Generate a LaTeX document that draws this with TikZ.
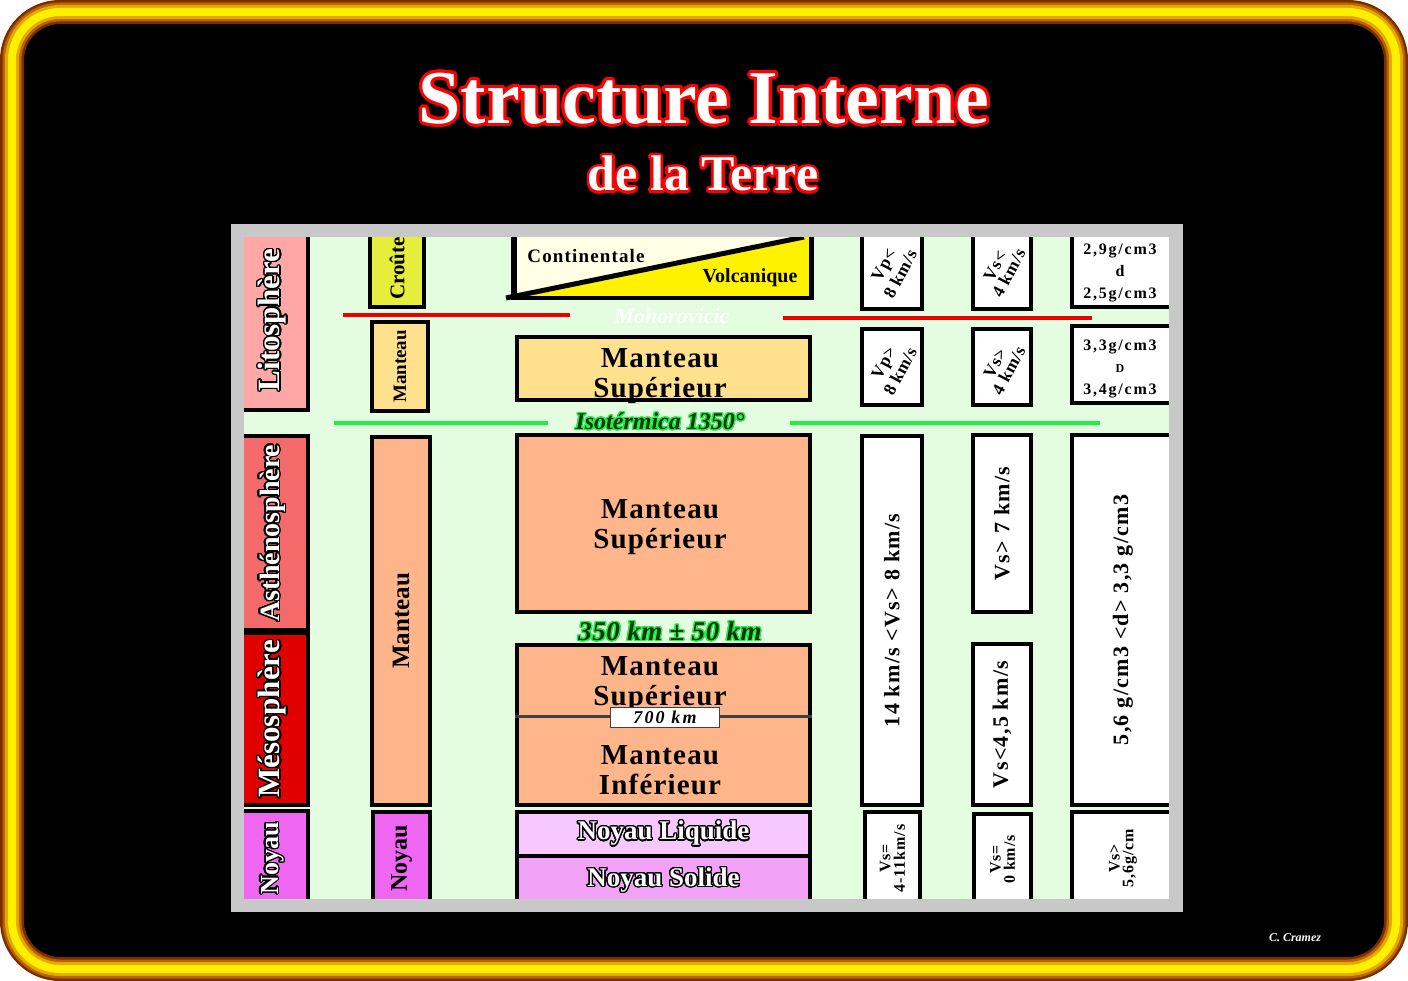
\documentclass[tikz,border=0pt]{standalone}
\usepackage{fontspec}
\setmainfont{Liberation Serif}
\usepackage{graphicx}
\usepackage{contour}
\contourlength{1.3pt}
\contournumber{24}

\definecolor{rimdark}{HTML}{7A2E00}
\definecolor{rimbrown}{HTML}{B86200}
\definecolor{rimgold}{HTML}{E6A800}
\definecolor{rimyellow}{HTML}{FFF000}
\definecolor{panelgray}{HTML}{C8C8C8}
\definecolor{paper}{HTML}{E4FDE0}
\definecolor{lithopink}{HTML}{FFA6A6}
\definecolor{asthenored}{HTML}{F46A6A}
\definecolor{mesored}{HTML}{E00000}
\definecolor{coremagenta}{HTML}{EE66F2}
\definecolor{crustlime}{HTML}{E6EE3C}
\definecolor{mantlelight}{HTML}{FFE08C}
\definecolor{mantle}{HTML}{FFB58A}
\definecolor{liquidcore}{HTML}{F6C8FF}
\definecolor{solidcore}{HTML}{F2A2F6}
\definecolor{cream}{HTML}{FFFFE6}
\definecolor{mohored}{HTML}{EE0000}
\definecolor{isogreen}{HTML}{22EE44}
\definecolor{glowdark}{HTML}{063806}
\definecolor{divgray}{HTML}{404040}

\newcommand{\outl}[1]{\textcolor{white}{\contour{black}{#1}}}
\newcommand{\glow}[1]{\textcolor{glowdark}{\contour{isogreen}{#1}}}
\newcommand{\up}[1]{\rotatebox{90}{#1}}
\newcommand{\tilt}[1]{\rotatebox{62}{\shortstack{#1}}}

\begin{document}
\begin{tikzpicture}[x=1pt, y=-1pt]
  \tikzstyle{every node}=[inner sep=0pt, align=center, font=\bfseries]
  \tikzstyle{layer}=[draw=black, line width=4.5pt]
  \tikzstyle{shell}=[layer, minimum width=70pt, font=\bfseries\fontsize{31}{31}\selectfont]
  \tikzstyle{part}=[layer, font=\bfseries\fontsize{21}{21}\selectfont]
  \tikzstyle{zone}=[layer, minimum width=293pt]
  \tikzstyle{zonetxt}=[font=\bfseries\fontsize{29}{30}\selectfont\addfontfeature{LetterSpace=4}]
  \tikzstyle{datum}=[layer, fill=white, font=\bfseries\fontsize{22}{22}\selectfont\addfontfeature{LetterSpace=6}]
  \tikzstyle{tiny}=[font=\bfseries\fontsize{16}{17}\selectfont\addfontfeature{LetterSpace=6}]
  \tikzstyle{slant}=[font=\bfseries\fontsize{17.5}{17}\selectfont\addfontfeature{LetterSpace=4}]
  \tikzstyle{dens}=[font=\bfseries\fontsize{16}{22}\selectfont\addfontfeature{LetterSpace=11}]
  \useasboundingbox (0,0) rectangle (1408,981);

  % frame
  \fill[black, rounded corners=40pt] (12,12) rectangle (1396,969);
  \foreach \w/\c in {24/rimdark, 19/rimbrown, 14/rimgold, 8/rimyellow}
    \draw[\c, line width=\w pt, rounded corners=48pt] (12,12) rectangle (1396,969);

  % title
  \node[text=white, font=\bfseries\fontsize{76}{76}\selectfont] (title) at (704,100)
    {{\contourlength{3pt}\contour{red}{Structure Interne}}};
  \node[text=white, font=\bfseries\fontsize{50}{50}\selectfont] (subtitle) at (703,175)
    {{\contourlength{2.5pt}\contour{red}{de la Terre}}};
  \node[text=white, font=\bfseries\itshape\fontsize{12}{12}\selectfont] (author) at (1295,938) {C. Cramez};

  % panel
  \fill[panelgray] (231,224) rectangle (1183,912);
  \fill[paper] (244,237) rectangle (1169,899);

  % boundaries
  \draw[mohored, line width=4pt] (343,315) -- (570,315);
  \draw[mohored, line width=4pt] (783,318) -- (1092,318);
  \draw[isogreen, line width=3.5pt] (334,423) -- (548,423);
  \draw[isogreen, line width=3.5pt] (790,423) -- (1100,423);

  % shells
  \node[shell, fill=lithopink, minimum height=180pt] (litho) at (273,320) {\up{\outl{Litosphère}}};
  \node[shell, fill=asthenored, minimum height=194pt, font=\bfseries\fontsize{28}{28}\selectfont] (astheno) at (273,533) {\up{\outl{Asthénosphère}}};
  \node[shell, fill=mesored, minimum height=172pt] (meso) at (273,719) {\up{\outl{Mésosphère}}};
  \node[shell, fill=coremagenta, minimum height=94pt, font=\bfseries\fontsize{26}{26}\selectfont] (core1) at (273,858) {\up{\outl{Noyau}}};

  % composition
  \node[part, fill=crustlime, minimum width=54pt, minimum height=77pt] (crust2) at (397,268.5) {\up{Croûte}};
  \node[part, fill=mantlelight, minimum width=56pt, minimum height=89pt, font=\bfseries\fontsize{19}{19}\selectfont] (mantle2a) at (400,366.5) {\up{Manteau}};
  \node[part, fill=mantle, minimum width=58pt, minimum height=368pt, font=\bfseries\fontsize{25}{25}\selectfont] (mantle2b) at (401,621) {\up{Manteau}};
  \node[part, fill=coremagenta, minimum width=57pt, minimum height=93pt, font=\bfseries\fontsize{24}{24}\selectfont] (core2) at (401.5,858.5) {\up{Noyau}};

  % crust types
  \node[layer, fill=cream, minimum width=294pt, minimum height=66pt] (crust) at (662,263) {};
  \coordinate (apex) at (804,237);
  \coordinate (tail) at (506,298);
  \fill[yellow] (crust.south west) -- (crust.south east) -- (crust.north east) -- (apex) -- cycle;
  \draw[line width=5pt] (tail) -- (apex);
  \draw[layer] (crust.south west) rectangle (crust.north east);
  \node[font=\bfseries\fontsize{19}{19}\selectfont\addfontfeature{LetterSpace=6}] (conti) at (586,256) {Continentale};
  \node[font=\bfseries\fontsize{20}{20}\selectfont] (volca) at (750,278) {Volcanique};
  \node[text=white, font=\bfseries\itshape\fontsize{22}{22}\selectfont] (moho) at (672,316) {Mohorovicic};

  % mantle and core
  \node[zone, fill=mantlelight, minimum height=63pt] (upper1) at (663.5,368.5) {};
  \node[zonetxt] (upper1txt) at (660,376) {Manteau\\Supérieur};
  \node (iso) at (660,422) {\fontsize{24}{24}\selectfont\itshape\glow{Isotérmica 1350°}};
  \node[zone, fill=mantle, minimum height=177pt] (upper2) at (663.5,523.5) {};
  \node[zonetxt] (upper2txt) at (660,527) {Manteau\\Supérieur};
  \node (lvz) at (670,632) {\fontsize{27}{27}\selectfont\itshape\addfontfeature{LetterSpace=2}\glow{350 km ± 50 km}};
  \node[zone, fill=mantle, minimum height=160pt] (lower) at (663.5,725) {};
  \draw[divgray, line width=3pt] (lower.west |- 0,716) -- (lower.east |- 0,716);
  \node[zonetxt] (upper3txt) at (660,684) {Manteau\\Supérieur};
  \node[zonetxt] (lowertxt) at (660,770) {Manteau\\Inférieur};
  \node[draw=divgray, fill=white, line width=0.8pt, minimum width=109pt, minimum height=20pt,
        font=\bfseries\itshape\fontsize{18}{18}\selectfont\addfontfeature{LetterSpace=12}] (km700) at (665,717) {700 km};
  \node[zone, fill=liquidcore, minimum height=44pt, font=\bfseries\fontsize{27}{27}\selectfont] (liquid) at (663.5,834) {\outl{Noyau Liquide}};
  \node[zone, fill=solidcore, minimum height=49pt, font=\bfseries\fontsize{27}{27}\selectfont] (solid) at (663.5,880.5) {\outl{Noyau Solide}};

  % P waves
  \node[datum, slant, minimum width=60pt, minimum height=79pt] (vp1) at (892,269.5) {\tilt{Vp<\\8 km/s}};
  \node[datum, slant, minimum width=60pt, minimum height=76pt] (vp2) at (892,367) {\tilt{Vp>\\8 km/s}};
  \node[datum, minimum width=60pt, minimum height=369pt] (vp3) at (892,620.5) {\up{14 km/s <Vs> 8 km/s}};
  \node[datum, tiny, minimum width=55pt, minimum height=93pt] (vp4) at (892.5,858.5) {\up{\shortstack{Vs=\\4-11km/s}}};

  % S waves
  \node[datum, slant, minimum width=58pt, minimum height=79pt] (vs1) at (1002,269.5) {\tilt{Vs<\\4 km/s}};
  \node[datum, slant, minimum width=58pt, minimum height=76pt] (vs2) at (1002,367) {\tilt{Vs>\\4 km/s}};
  \node[datum, minimum width=58pt, minimum height=177pt] (vs3) at (1002,523.5) {\up{Vs> 7 km/s}};
  \node[datum, minimum width=58pt, minimum height=161pt] (vs4) at (1002,724.5) {\up{Vs<4,5 km/s}};
  \node[datum, tiny, minimum width=57pt, minimum height=91pt] (vs5) at (1002.5,859.5) {\up{\shortstack{Vs=\\0 km/s}}};

  % density
  \node[datum, minimum width=102pt, minimum height=77pt] (d1) at (1123,268.5) {};
  \node[dens] (d1txt) at (1120,272.5) {2,9g/cm3\\d\\2,5g/cm3};
  \node[datum, minimum width=102pt, minimum height=77pt] (d2) at (1123,364.5) {};
  \node[dens] (d2txt) at (1120,368.5) {3,3g/cm3\\{\fontsize{12}{12}\selectfont D}\\3,4g/cm3};
  \node[datum, minimum width=102pt, minimum height=370pt] (d3) at (1123,620) {\up{5,6 g/cm3 <d> 3,3 g/cm3}};
  \node[datum, tiny, minimum width=102pt, minimum height=93pt] (d4) at (1123,858.5) {\up{\shortstack{Vs>\\5,6g/cm}}};

  % panel edge over the cut boxes
  \draw[panelgray, line width=13.5pt] (237.5,230.5) rectangle (1176,905.5);
\end{tikzpicture}
\end{document}
